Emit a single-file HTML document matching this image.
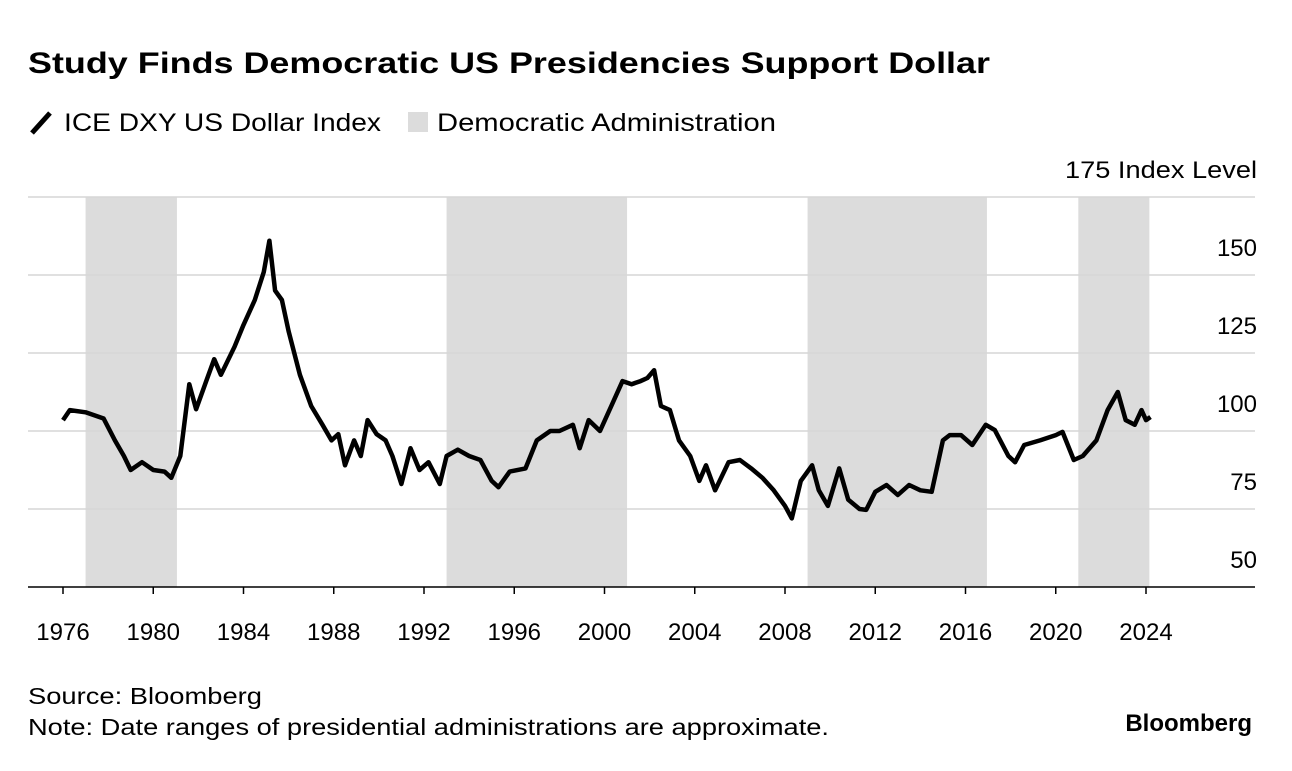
<!DOCTYPE html>
<html><head><meta charset="utf-8"><style>
body{margin:0;background:#fff;width:1292px;height:766px;overflow:hidden;font-family:"Liberation Sans",sans-serif}
svg text{font-family:"Liberation Sans",sans-serif}
</style></head><body>
<svg id="chart" width="1292" height="766" xmlns="http://www.w3.org/2000/svg">
<text x="28" y="73" font-size="30" font-weight="bold" fill="#000" textLength="962" lengthAdjust="spacingAndGlyphs">Study Finds Democratic US Presidencies Support Dollar</text>
<g>
<line x1="32" y1="133" x2="50" y2="113" stroke="#000" stroke-width="5"/>
<text x="64" y="131" font-size="25" textLength="317" lengthAdjust="spacingAndGlyphs">ICE DXY US Dollar Index</text>
<rect x="408" y="112" width="20" height="20" fill="#dcdcdc"/>
<text x="437" y="131" font-size="25" textLength="339" lengthAdjust="spacingAndGlyphs">Democratic Administration</text>
</g>
<g id="shade"></g><g id="grid"></g><g id="xaxis"></g>
<path id="line" fill="none" stroke="#000" stroke-width="4.5" stroke-linejoin="round"/>
<text x="28" y="704" font-size="23" textLength="234" lengthAdjust="spacingAndGlyphs">Source: Bloomberg</text>
<text x="28" y="735" font-size="23" textLength="801" lengthAdjust="spacingAndGlyphs">Note: Date ranges of presidential administrations are approximate.</text>
<text x="1252" y="731" font-size="24" font-weight="bold" text-anchor="end">Bloomberg</text>
</svg>
<script>
const yTicks=[50,75,100,125,150,175];
const xTicks=[1976,1980,1984,1988,1992,1996,2000,2004,2008,2012,2016,2020,2024];
const demStart=[1977,1993,2009,2021];
const demEnd=[1981.05,2001.0,2016.95,2024.15];
const years=[1976.0,1976.3,1977,1977.8,1978.3,1978.7,1979,1979.5,1980,1980.5,1980.8,1981.2,1981.6,1981.9,1982.3,1982.7,1983,1983.6,1984,1984.5,1984.9,1985.15,1985.4,1985.7,1986,1986.5,1987,1987.5,1987.9,1988.2,1988.5,1988.9,1989.2,1989.5,1989.9,1990.3,1990.6,1991,1991.4,1991.8,1992.2,1992.7,1993,1993.5,1994,1994.5,1995,1995.3,1995.8,1996.5,1997,1997.6,1998,1998.6,1998.9,1999.3,1999.8,2000.3,2000.8,2001.2,2001.6,2001.9,2002.2,2002.5,2002.9,2003.3,2003.8,2004.2,2004.5,2004.9,2005.5,2006,2006.5,2007,2007.5,2008,2008.3,2008.7,2009.2,2009.5,2009.9,2010.4,2010.8,2011.3,2011.6,2012,2012.5,2013,2013.5,2014,2014.5,2015,2015.3,2015.8,2016.3,2016.9,2017.3,2017.9,2018.2,2018.6,2019.3,2020,2020.3,2020.8,2021.2,2021.8,2022.3,2022.75,2023.1,2023.5,2023.8,2024.0,2024.2];
const values=[103.5,106.7,106,104,97,92,87.5,90,87.5,87,85,92,115,107,115,123,118,127,134,142,151,161,145,142,132,118,108,102,97,99,89,97,92,103.5,99,97,92,83,94.5,87.5,90,83,92,94,92,90.7,84,82,87,88,97,100,100,102,94.5,103.5,100,108,116,115,116,117,119.5,108,106.7,97,92,84,89,81,90,90.7,88,85,81,76,72,84,89,81,76,88,78,75,74.7,80.5,82.7,79.5,82.7,81,80.5,97,98.7,98.7,95.5,102,100.3,92,90,95.5,97,98.7,99.7,90.7,92,97,106.7,112.5,103.5,102,106.7,103.5,104.5];
const X=y=>63+(y-1976)*(1083/48);
const Y=v=>587-(v-50)*3.12;
const NS='http://www.w3.org/2000/svg';
function mk(t,a,p){const e=document.createElementNS(NS,t);for(const k in a)e.setAttribute(k,a[k]);document.getElementById(p).appendChild(e);return e;}
demStart.forEach((s,i)=>{const r=mk('rect',{x:X(s),y:197,width:X(demEnd[i])-X(s),height:390,fill:'#dcdcdc'},'shade');

});
yTicks.forEach(v=>{if(v>50){const l=mk('line',{x1:28,x2:1255,y1:Y(v),y2:Y(v),stroke:'#d6d6d6','stroke-width':1.5},'grid');

}
const a={x:1257,y:Y(v)-19,'font-size':24,'text-anchor':'end'};
if(v==175){a.textLength=192;a.lengthAdjust='spacingAndGlyphs';}
const t=mk('text',a,'grid');
t.textContent=v==175?'175 Index Level':String(v);

});
const ax=mk('line',{x1:28,x2:1255,y1:587,y2:587,stroke:'#000','stroke-width':1.5},'xaxis');


xTicks.forEach(y=>{const tk=mk('line',{x1:X(y),x2:X(y),y1:587,y2:594,stroke:'#000','stroke-width':1.5},'xaxis');


const t=mk('text',{x:X(y),y:640,'font-size':24,'text-anchor':'middle'},'xaxis');t.textContent=y;

});
document.getElementById('line').setAttribute('d',years.map((y,i)=>(i?'L':'M')+X(y).toFixed(1)+','+Y(values[i]).toFixed(1)).join(''));
</script>
</body></html>
